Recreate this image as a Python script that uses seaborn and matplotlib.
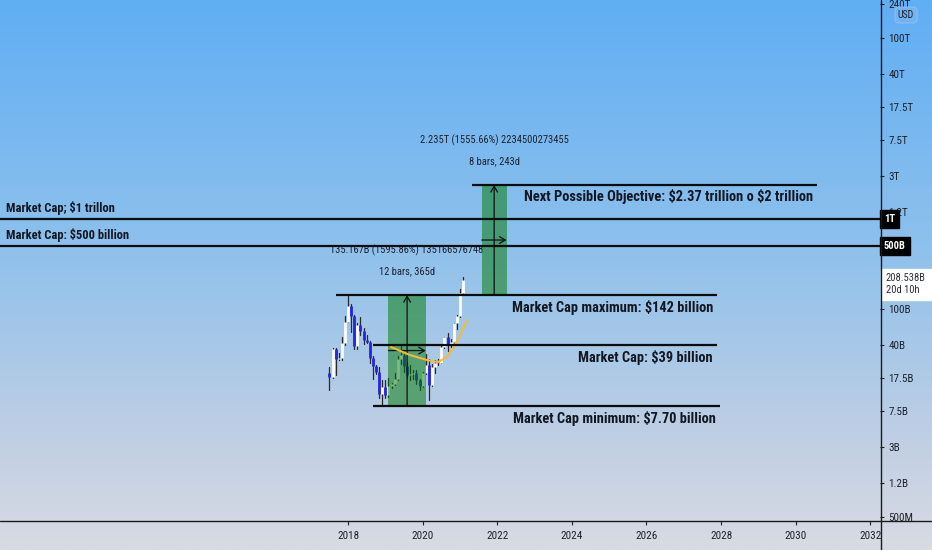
import numpy as np
import pandas as pd
import matplotlib
matplotlib.use("Agg")
import matplotlib.pyplot as plt
import matplotlib.font_manager as fm
import matplotlib.ticker as mticker
from matplotlib.lines import Line2D
from matplotlib.patches import Rectangle
import seaborn as sns

# ---------------- data (market cap, billions USD, monthly bars) ----------------
months = pd.period_range("2017-07", "2021-02", freq="M").astype(str).tolist()
open_bn = [19.8, 17.8, 36.5, 28.4, 29.0, 42.5, 73.0, 109.0, 83.8, 38.9, 66.2, 57.5,
           45.5, 43.6, 28.6, 23.6, 20.2, 11.6, 13.75, 11.1, 14.2, 14.8, 17.1, 28.4,
           31.1, 23.3, 18.5, 19.4, 19.8, 16.5, 14.2, 19.7, 23.9, 14.6, 22.7, 25.6,
           25.1, 38.5, 48.7, 40.5, 43.6, 69.7, 83.8, 150.2]
high_bn = [23.0, 37.0, 37.3, 33.2, 49.7, 84.9, 143.0, 113.7, 86.7, 70.1, 83.1, 62.5,
           51.9, 44.0, 30.5, 24.0, 23.2, 16.5, 16.6, 17.2, 15.2, 19.5, 30.2, 38.9,
           34.2, 25.8, 24.3, 21.4, 21.2, 16.8, 20.2, 31.8, 27.8, 25.0, 27.1, 28.1,
           39.1, 49.8, 54.9, 47.2, 70.2, 86.1, 168.4, 230.0]
low_bn = [12.7, 17.4, 18.9, 27.1, 27.2, 40.5, 72.3, 56.4, 36.0, 36.1, 52.2, 41.5,
          42.8, 25.5, 17.0, 19.4, 10.5, 8.47, 10.4, 10.7, 13.4, 14.6, 16.5, 24.5,
          20.3, 17.5, 16.5, 17.0, 15.0, 12.9, 13.8, 19.4, 9.9, 14.3, 19.9, 23.9,
          25.1, 37.5, 34.6, 37.9, 41.9, 60.8, 81.6, 145.0]
close_bn = [17.8, 36.5, 28.4, 29.0, 42.5, 73.0, 109.0, 83.8, 38.9, 66.2, 57.5, 45.5,
            43.6, 28.6, 23.6, 20.2, 11.6, 13.75, 11.1, 14.2, 14.8, 17.1, 28.4, 31.1,
            23.3, 18.5, 19.4, 19.8, 16.5, 14.2, 19.7, 23.9, 14.6, 22.7, 25.6, 25.1,
            38.5, 48.7, 40.5, 43.6, 69.7, 83.8, 150.2, 208.5]

# hand-drawn yellow curve (decimal year, billions)
curve_year = [2019.15, 2019.66, 2020.12, 2020.41, 2020.65, 2020.82, 2021.00, 2021.19]
curve_bn = [38.2, 31.1, 27.4, 26.0, 29.6, 37.2, 51.8, 76.0]

# horizontal level lines that span only part of the chart
seg_values = [2378e9, 143.6e9, 40e9, 8.47e9]
seg_start = [2021.33, 2017.68, 2018.67, 2018.67]
seg_end = [2030.57, 2027.89, 2027.89, 2027.97]
seg_labels = ["Next Possible Objective: $2.37 trillion o $2 trillion",
              "Market Cap maximum: $142 billion",
              "Market Cap: $39 billion",
              "Market Cap minimum: $7.70 billion"]

# full-width level lines
full_values = [1e12, 5e11]
full_labels = ["Market Cap; $1 trillon", "Market Cap: $500 billion"]
full_tags = ["1T", "500B"]

# price-range measurements
range_start = ["2019-02", "2021-08"]
range_end = ["2020-02", "2022-04"]
range_low = [8.47e9, 143.7e9]
range_high = [143.6e9, 2378e9]
range_text1 = ["135.167B (1595.86%) 135166576748", "2.235T (1555.66%) 2234500273455"]
range_text2 = ["12 bars, 365d", "8 bars, 243d"]

last_value = 208.538e9
last_text = "208.538B\n20d 10h"

x_ticks = [2018, 2020, 2022, 2024, 2026, 2028, 2030, 2032]
y_ticks = [5e8, 1.2e9, 3e9, 7.5e9, 1.75e10, 4e10, 1e11, 1.2e12, 3e12, 7.5e12,
           1.75e13, 4e13, 1e14, 2.4e14]
y_tick_labels = ["500M", "1.2B", "3B", "7.5B", "17.5B", "40B", "100B", "1.2T", "3T",
                 "7.5T", "17.5T", "40T", "100T", "240T"]


def dec_year(s):
    p = pd.Period(s, freq="M")
    return p.year + (p.month - 1) / 12.0


# ---------------- fonts ----------------
def pick_font(cands):
    for c in cands:
        try:
            fm.findfont(fm.FontProperties(family=c), fallback_to_default=False)
            return c
        except Exception:
            pass
    return None

narrow = pick_font(["Liberation Sans Narrow", "Roboto Condensed", "Open Sans Condensed",
                    "Noto Sans Condensed", "DejaVu Sans Condensed"])
sns.set_theme(style="white")
if narrow:
    FAM = [narrow, "DejaVu Sans"]
    S = 1.0
else:
    FAM = ["DejaVu Sans"]
    S = 0.76
plt.rcParams["font.family"] = FAM
plt.rcParams["text.parse_math"] = False
TXT = "#131722"

# ---------------- figure ----------------
W, H = 932, 550
fig = plt.figure(figsize=(W / 100, H / 100), dpi=100)

bg = fig.add_axes([0, 0, 1, 1], zorder=0)
stops = np.array([0.0, 0.45, 0.8, 1.0])
cols = np.array([[96, 174, 244], [142, 193, 236], [192, 207, 228], [216, 219, 227]]) / 255
t = np.linspace(0, 1, 400)
grad = np.stack([np.interp(t, stops, cols[:, k]) for k in range(3)], axis=1)
bg.imshow(grad[:, None, :], aspect="auto", extent=[0, 1, 0, 1])
bg.set_axis_off()

ax = fig.add_axes([0, 29 / H, 880 / W, 521 / H], zorder=1)
ax.patch.set_alpha(0)
ax.set_yscale("log")
ax.set_xlim(2008.67, 2032.26)
ax.set_ylim(4.52e8, 2.66e14)

# ---------------- candles ----------------
xs = [dec_year(m) for m in months]
df = pd.DataFrame({"x": xs, "o": np.array(open_bn) * 1e9, "h": np.array(high_bn) * 1e9,
                   "l": np.array(low_bn) * 1e9, "c": np.array(close_bn) * 1e9})
df["id"] = range(len(df))
wick = pd.concat([df[["id", "x"]].assign(v=df["l"]), df[["id", "x"]].assign(v=df["h"])])
sns.lineplot(data=wick, x="x", y="v", units="id", estimator=None, color="#2a2a2a",
             lw=0.9, legend=False, ax=ax, zorder=3)
for up, colr in [(True, "white"), (False, "#2626e0")]:
    sub = df[(df["c"] >= df["o"]) == up]
    body = pd.concat([sub[["id", "x"]].assign(v=sub["o"]), sub[["id", "x"]].assign(v=sub["c"])])
    sns.lineplot(data=body, x="x", y="v", units="id", estimator=None, color=colr,
                 lw=2.0, legend=False, ax=ax, zorder=4, solid_capstyle="butt")

# ---------------- price ranges ----------------
for i in range(len(range_start)):
    x0, x1 = dec_year(range_start[i]), dec_year(range_end[i])
    lo, hi = range_low[i], range_high[i]
    ax.add_patch(Rectangle((x0, lo), x1 - x0, hi - lo, facecolor=(0, 0.47, 0),
                           alpha=0.5, edgecolor="none", zorder=5))
    xc = (x0 + x1) / 2
    ym = np.sqrt(lo * hi)
    ap = dict(arrowstyle="->,head_length=0.35,head_width=0.2", lw=0.9, color="#111",
              shrinkA=0, shrinkB=0)
    ax.annotate("", xy=(xc, hi), xytext=(xc, lo), arrowprops=ap, zorder=6)
    ax.annotate("", xy=(x1, ym), xytext=(x0, ym), arrowprops=ap, zorder=6)
    ax.annotate(range_text1[i], xy=(xc, hi), xytext=(0, 45), textcoords="offset pixels",
                ha="center", va="center", fontsize=7.6 * S, color="#1e222d")
    ax.annotate(range_text2[i], xy=(xc, hi), xytext=(0, 24), textcoords="offset pixels",
                ha="center", va="center", fontsize=7.6 * S, color="#1e222d")

# yellow curve
sns.lineplot(x=curve_year, y=[v * 1e9 for v in curve_bn], color="#f4bb34",
             lw=1.5, ax=ax, zorder=7)

# ---------------- level lines ----------------
for v, a, b, lab in zip(seg_values, seg_start, seg_end, seg_labels):
    ax.hlines(v, a, b, color="#0c0c0c", lw=1.6, zorder=8)
    ax.annotate(lab, xy=(b, v), xytext=(-4, -12), textcoords="offset pixels", ha="right",
                va="center", fontsize=10.4 * S, fontweight="bold", color=TXT, zorder=9)

for v, lab, tag in zip(full_values, full_labels, full_tags):
    ax.axhline(v, color="#0c0c0c", lw=1.6, zorder=8)
    ax.annotate(lab, xy=(6 / 880, v), xycoords=("axes fraction", "data"), xytext=(0, 11),
                textcoords="offset pixels", ha="left", va="center", fontsize=9.0 * S,
                fontweight="bold", color=TXT)
    ax.annotate(tag, xy=(1, v), xycoords=("axes fraction", "data"), xytext=(4, 0),
                textcoords="offset pixels", ha="left", va="center", fontsize=7.6 * S,
                fontweight="bold", color="white", annotation_clip=False, zorder=20,
                bbox=dict(boxstyle="square,pad=0.35", fc="black", ec="black"))

ax.annotate(last_text, xy=(1, last_value), xycoords=("axes fraction", "data"),
            xytext=(6, 7), textcoords="offset pixels", ha="left", va="top",
            fontsize=7.6 * S, color="#2a2e39", linespacing=1.25, annotation_clip=False,
            zorder=20, bbox=dict(boxstyle="square,pad=0.45", fc="white", ec="white"))

# ---------------- axes ----------------
for sp in ax.spines.values():
    sp.set_visible(False)
ax.set_xticks(x_ticks)
ax.set_xticklabels([str(v) for v in x_ticks])
ax.yaxis.tick_right()
ax.set_yticks(y_ticks)
ax.set_yticklabels(y_tick_labels)
ax.yaxis.set_minor_locator(mticker.NullLocator())
ax.tick_params(axis="x", bottom=True, direction="out", length=3, width=0.8,
               color="#222", labelsize=8.0 * S, labelcolor="#1e222d", pad=4)
ax.tick_params(axis="y", right=True, left=False, direction="out", length=3, width=0.8,
               color="#222", labelsize=8.0 * S, labelcolor="#1e222d", pad=3)
ax.set_xlabel("")
ax.set_ylabel("")
ax.grid(False)

fig.add_artist(Line2D([0, 1], [29 / H, 29 / H], transform=fig.transFigure, color="#1a1a1a", lw=1.0))
fig.add_artist(Line2D([880.5 / W, 880.5 / W], [0, 1], transform=fig.transFigure, color="#1a1a1a", lw=1.0))
fig.text(906 / W, 1 - 15 / H, "USD", ha="center", va="center", fontsize=7 * S, color="#1e222d",
         bbox=dict(boxstyle="round,pad=0.3,rounding_size=0.4", fc=(0.45, 0.70, 0.95),
                   ec=(0.55, 0.75, 0.95), lw=0.8), zorder=20)

fig.savefig("out.png", dpi=100)
